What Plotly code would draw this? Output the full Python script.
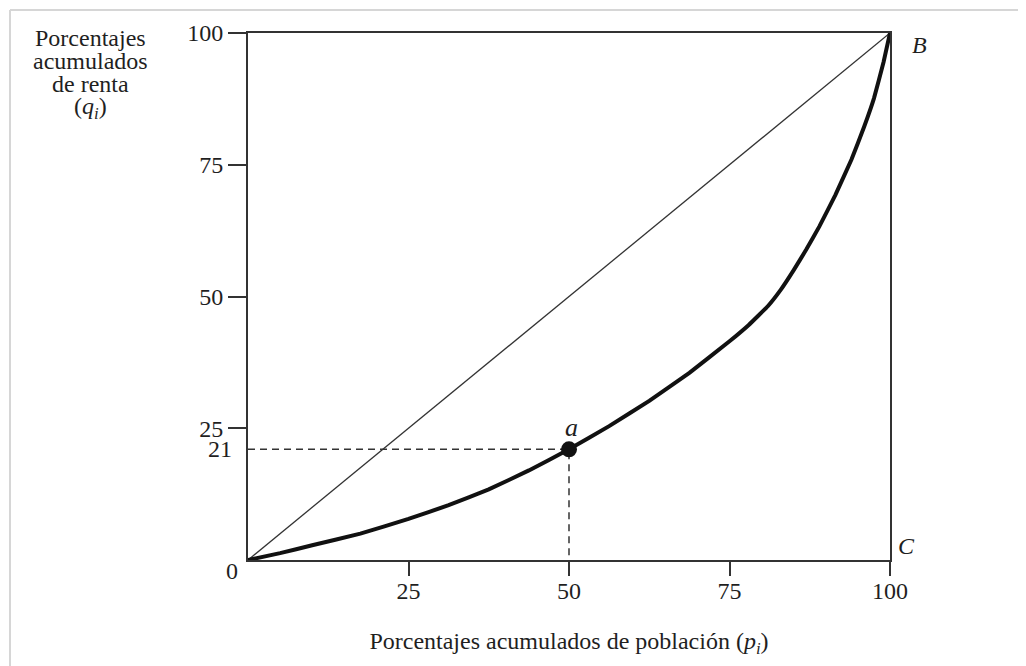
import plotly.graph_objects as go

# Lorenz curve (cumulative population %, cumulative income %)
pop_pct = [0, 5, 10, 17.5, 25, 31.25, 37.5, 43.75, 50, 56.25, 62.5, 68.75, 75, 78, 81,
           83, 85, 87, 89, 91.5, 94, 96, 97.5, 99, 100]
inc_pct = [0, 1.3, 2.8, 5.0, 7.8, 10.4, 13.4, 17.0, 21, 25.4, 30.2, 35.5, 41.5, 44.6, 48.2,
           51.3, 55.0, 59.0, 63.3, 69.3, 76.0, 82.3, 87.6, 94.5, 100]

equality_x = [0, 100]
equality_y = [0, 100]

point_a_x = [50]
point_a_y = [21]

x_tickvals = [25, 50, 75, 100]
y_tickvals = [25, 50, 75, 100]

y_title_lines = ["Porcentajes", "acumulados", "de renta", "(<i>q<sub>i</sub></i>)"]
y_title_pos = [0.9905, 0.9469, 0.9032, 0.8580]

FONT = "Liberation Serif"
INK = "#1f1f1f"
LINE = "#333333"
FS = 24

fig = go.Figure()

# Equality line
fig.add_trace(go.Scatter(x=equality_x, y=equality_y, mode="lines",
                         line=dict(color=LINE, width=1.3), showlegend=False, hoverinfo="skip"))

# Dashed guides for point a
fig.add_trace(go.Scatter(x=[0, point_a_x[0], point_a_x[0]], y=[point_a_y[0], point_a_y[0], 0],
                         mode="lines", line=dict(color=LINE, width=1.5, dash="7px,5px"),
                         showlegend=False, hoverinfo="skip"))

# Lorenz curve
fig.add_trace(go.Scatter(x=pop_pct, y=inc_pct, mode="lines",
                         line=dict(color="#111111", width=4, shape="spline", smoothing=0.25),
                         showlegend=False))

# Point a
fig.add_trace(go.Scatter(x=point_a_x, y=point_a_y, mode="markers",
                         marker=dict(color="#111111", size=16), showlegend=False))

fig.update_xaxes(range=[0, 100], tickvals=x_tickvals, ticks="outside", ticklen=14,
                 tickwidth=2, tickcolor=LINE, showline=True, linecolor=LINE, linewidth=2,
                 mirror=True, showgrid=False, zeroline=False, ticklabelstandoff=-6,
                 tickfont=dict(family=FONT, size=FS, color=INK),
                 title=dict(text="Porcentajes acumulados de población (<i>p<sub>i</sub></i>)",
                            font=dict(family=FONT, size=FS, color=INK), standoff=29))
fig.update_yaxes(range=[0, 100], tickvals=y_tickvals, ticks="outside", ticklen=18,
                 tickwidth=2, tickcolor=LINE, showline=True, linecolor=LINE, linewidth=2,
                 mirror=True, showgrid=False, zeroline=False,
                 tickfont=dict(family=FONT, size=FS, color=INK))

annotations = [
    dict(x=0, y=21, xref="x", yref="y", text="21", showarrow=False, xanchor="right",
         xshift=-14, font=dict(family=FONT, size=FS, color=INK)),
    dict(x=0, y=0, xref="x", yref="y", text="0", showarrow=False, xanchor="right",
         xshift=-8, yshift=-11, font=dict(family=FONT, size=FS, color=INK)),
    dict(x=100, y=100, xref="x", yref="y", text="<i>B</i>", showarrow=False, xanchor="center",
         xshift=29, yshift=-12, font=dict(family=FONT, size=FS, color=INK)),
    dict(x=100, y=0, xref="x", yref="y", text="<i>C</i>", showarrow=False, xanchor="center",
         xshift=16, yshift=14, font=dict(family=FONT, size=FS, color=INK)),
    dict(x=point_a_x[0], y=point_a_y[0], xref="x", yref="y", text="<i>a</i>", showarrow=False,
         xanchor="center", xshift=2, yshift=22, font=dict(family=FONT, size=FS + 2, color=INK)),
]
for line_text, ypos in zip(y_title_lines, y_title_pos):
    annotations.append(dict(x=-0.246, y=ypos, xref="paper", yref="paper", text=line_text,
                            showarrow=False, xanchor="center", yanchor="middle",
                            font=dict(family=FONT, size=FS, color=INK)))

shapes = [
    dict(type="line", xref="paper", yref="paper", x0=-0.3707, x1=1.25, y0=1.0436, y1=1.0436,
         line=dict(color="#d6d6d6", width=2)),
    dict(type="line", xref="paper", yref="paper", x0=-0.3707, x1=-0.3707, y0=1.0436, y1=-0.25,
         line=dict(color="#d6d6d6", width=2)),
]

fig.update_layout(width=1026, height=666, margin=dict(l=240, r=144, t=25, b=114),
                  plot_bgcolor="white", paper_bgcolor="white",
                  annotations=annotations, shapes=shapes)

fig.write_html("out.html")
